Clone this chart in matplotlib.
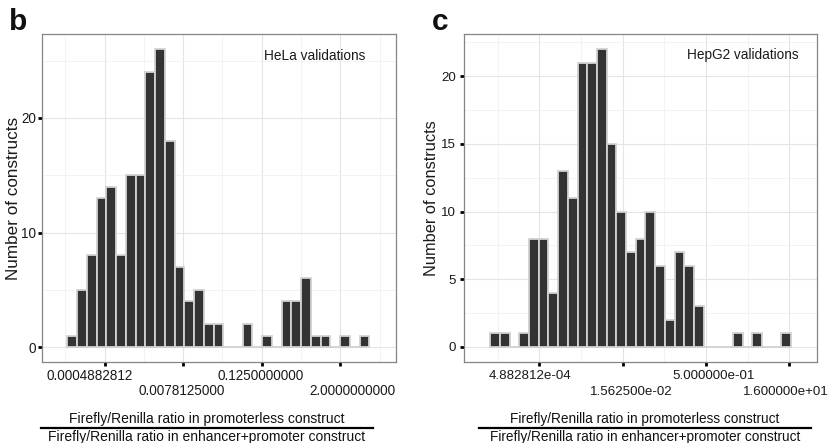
import matplotlib
matplotlib.use("Agg")
import matplotlib.pyplot as plt
import matplotlib.transforms as mtransforms
from matplotlib.lines import Line2D
import numpy as np

plt.rcParams['font.family'] = ['Liberation Sans', 'DejaVu Sans']

W, H = 832, 443
DPI = 100

# ---------------- data (histogram counts, bins in log2 units) ----------------
hela_bin_start = -12.65      # log2 value of first bin centre
hela_bin_width = 0.496
hela_counts = [1, 5, 8, 13, 14, 8, 15, 15, 24, 26, 18, 7, 4, 5, 2, 2,
               0, 0, 2, 0, 1, 0, 4, 4, 6, 1, 1, 0, 1, 0, 1]
hela_ticks = [-11, -7, -3, 1]
hela_tick_labels = ["0.0004882812", "0.0078125000", "0.1250000000", "2.0000000000"]
hela_yticks = [0, 10, 20]

hepg2_bin_start = -13.66
hepg2_bin_width = 0.5827
hepg2_counts = [1, 1, 0, 1, 8, 8, 4, 13, 11, 21, 21, 22, 15, 10, 7, 8,
                10, 6, 2, 7, 6, 3, 0, 0, 0, 1, 0, 1, 0, 0, 1]
hepg2_ticks = [-11, -6, -1, 4]
hepg2_tick_labels = ["4.882812e-04", "1.562500e-02", "5.000000e-01", "1.600000e+01"]
hepg2_yticks = [0, 5, 10, 15, 20]

ylab = "Number of constructs"
xlab_top = "Firefly/Renilla ratio in promoterless construct"
xlab_bot = "Firefly/Renilla ratio in enhancer+promoter construct"

fig = plt.figure(figsize=(W / DPI, H / DPI), dpi=DPI)
fig.patch.set_facecolor('white')


def px_axes(x0, y0, x1, y1):
    return fig.add_axes([x0 / W, 1 - y1 / H, (x1 - x0) / W, (y1 - y0) / H])


def panel(rect, start, width, counts, ticks, labels, xlim, ylim, yticks,
          yminor, xminor, label_dx, label_fs, ypad, annot, annot_xy,
          letter, letter_xy, ytitle_x, ytitle_fs, title_cx, line_x, title_fs):
    ax = px_axes(*rect)
    centers = start + width * np.arange(len(counts))
    ax.bar(centers, counts, width=width, color='#333333',
           edgecolor='#d2d2d2', linewidth=1.3, zorder=3)
    ax.set_xlim(*xlim)
    ax.set_ylim(*ylim)
    ax.set_xticks(ticks)
    ax.set_xticks(xminor, minor=True)
    ax.set_yticks(yticks)
    ax.set_yticks(yminor, minor=True)
    ax.set_axisbelow(True)
    ax.grid(True, which='major', color='#e4e4e4', linewidth=0.8)
    ax.grid(True, which='minor', color='#f1f1f1', linewidth=0.6)
    for s in ax.spines.values():
        s.set_color('#858585')
        s.set_linewidth(0.9)
        s.set_zorder(5)
    ax.tick_params(which='major', length=3.0, width=2.0, color='black',
                   labelsize=label_fs, labelcolor='#1a1a1a')
    ax.tick_params(axis='y', pad=ypad)
    ax.tick_params(which='minor', length=0)
    ax.tick_params(axis='x', labelbottom=False)
    # x tick labels, staggered in two rows
    base = mtransforms.blended_transform_factory(ax.transData, ax.transAxes)
    for i, (t, lab) in enumerate(zip(ticks, labels)):
        dy = 17.5 if i % 2 == 0 else 33.0
        off = mtransforms.ScaledTranslation(label_dx[i] / DPI, -dy / DPI,
                                            fig.dpi_scale_trans)
        ax.text(t, 0, lab, transform=base + off, ha='center', va='baseline',
                fontsize=label_fs, color='#1a1a1a')
    # annotation
    fig.text(annot_xy[0] / W, 1 - annot_xy[1] / H, annot, ha='left',
             va='baseline', fontsize=9.8, color='#1a1a1a')
    # panel letter
    fig.text(letter_xy[0] / W, 1 - letter_xy[1] / H, letter, ha='left',
             va='baseline', fontsize=21.5, fontweight='bold', color='#111111')
    # y title
    fig.text(ytitle_x / W, 1 - ((rect[1] + rect[3]) / 2) / H, ylab,
             rotation=90, ha='center', va='center', fontsize=ytitle_fs,
             color='#1a1a1a')
    # x title as a fraction
    fig.text(title_cx / W, 1 - 423 / H, xlab_top, ha='center', va='baseline',
             fontsize=title_fs, color='#111111')
    fig.text(title_cx / W, 1 - 440.5 / H, xlab_bot, ha='center',
             va='baseline', fontsize=title_fs, color='#111111')
    fig.add_artist(Line2D([line_x[0] / W, line_x[1] / W],
                          [1 - 427.7 / H, 1 - 427.7 / H],
                          transform=fig.transFigure, color='black',
                          linewidth=1.6))
    return ax


panel(rect=(42.3, 34.3, 395.7, 362.0), start=hela_bin_start,
      width=hela_bin_width, counts=hela_counts, ticks=hela_ticks,
      labels=hela_tick_labels, xlim=(-14.176, 3.82), ylim=(-1.3, 27.3),
      yticks=hela_yticks, yminor=[5, 15, 25], xminor=[-13, -9, -5, -1, 3],
      label_dx=[-14.7, -1.8, -1.3, 11.7], label_fs=9.76, ypad=1.2,
      annot="HeLa validations", annot_xy=(264, 59.5),
      letter="b", letter_xy=(8.5, 30), ytitle_x=13.5, ytitle_fs=12.3,
      title_cx=207, line_x=(41, 372.7), title_fs=10.0)

panel(rect=(464.3, 34.3, 816.7, 361.7), start=hepg2_bin_start,
      width=hepg2_bin_width, counts=hepg2_counts, ticks=hepg2_ticks,
      labels=hepg2_tick_labels, xlim=(-15.5, 5.644), ylim=(-1.1, 23.1),
      yticks=hepg2_yticks, yminor=[2.5, 7.5, 12.5, 17.5, 22.5],
      xminor=[-13.5, -8.5, -3.5, 1.5],
      label_dx=[-9.6, 8.7, 7.5, -3.0], label_fs=9.65, ypad=2.9,
      annot="HepG2 validations", annot_xy=(686.7, 59.5),
      letter="c", letter_xy=(432, 30), ytitle_x=431, ytitle_fs=11.8,
      title_cx=645, line_x=(479.3, 810.7), title_fs=9.8)

fig.savefig("out.png", dpi=DPI)
